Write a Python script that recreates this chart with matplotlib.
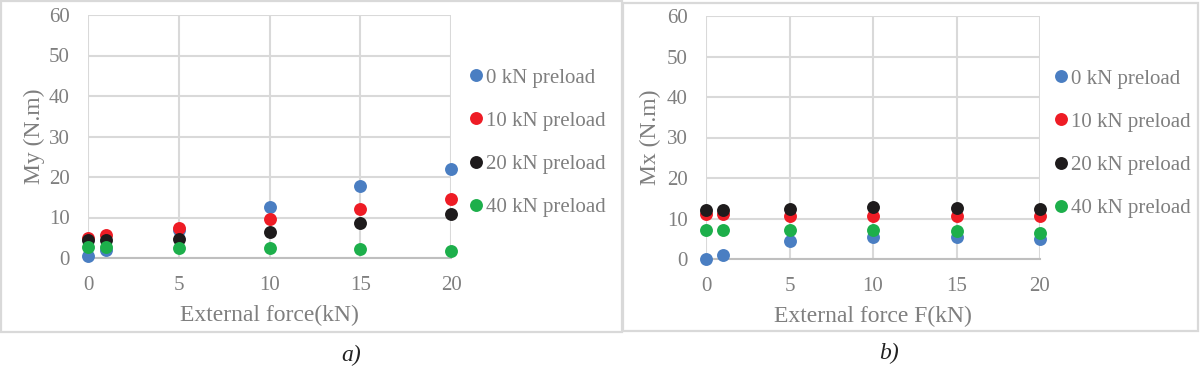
import matplotlib
matplotlib.use("Agg")
import matplotlib.pyplot as plt
from matplotlib.patches import Rectangle

plt.rcParams['font.family'] = ['Liberation Serif', 'DejaVu Serif']

x_force = [0, 1, 5, 10, 15, 20]
series_labels = ["0 kN preload", "10 kN preload", "20 kN preload", "40 kN preload"]
colors = ["#4A7EC2", "#EE1C25", "#1E1B1C", "#1DAF4B"]

my_0 = [0.6, 2.0, 6.9, 12.7, 17.8, 22.0]
my_10 = [4.9, 5.6, 7.3, 9.7, 12.2, 14.6]
my_20 = [4.5, 4.5, 4.7, 6.3, 8.7, 10.9]
my_40 = [2.6, 2.6, 2.5, 2.5, 2.2, 1.7]

mx_0 = [0.0, 1.0, 4.4, 5.4, 5.4, 4.9]
mx_10 = [11.0, 11.0, 10.7, 10.7, 10.6, 10.6]
mx_20 = [12.1, 12.1, 12.4, 12.9, 12.7, 12.4]
mx_40 = [7.1, 7.1, 7.1, 7.1, 6.9, 6.5]

xticks = [0, 5, 10, 15, 20]
yticks = [0, 10, 20, 30, 40, 50, 60]

W, H = 1200, 369
fig = plt.figure(figsize=(W / 100, H / 100), dpi=100)

grey = "#7F7F7F"
gridc = "#D9D9D9"

# outer frames
for (x0, y0, x1, y1) in [(1, 1, 622, 332), (623, 3, 1198, 331)]:
    fig.patches.append(Rectangle((x0 / W, 1 - y1 / H), (x1 - x0) / W, (y1 - y0) / H,
                                 transform=fig.transFigure, fill=False,
                                 edgecolor=gridc, linewidth=1.6))

def panel(rect, data, ylabel, xlabel, legend_pos, caption, cap_pos, ylabelpad):
    ax = fig.add_axes(rect)
    for vals, c, lab in zip(data, colors, series_labels):
        ax.plot(x_force, vals, linestyle="none", marker="o", markersize=9.3,
                color=c, markeredgewidth=0, label=lab, clip_on=False, zorder=3)
    ax.set_xlim(0, 20)
    ax.set_ylim(0, 60)
    ax.set_xticks(xticks)
    ax.set_yticks(yticks)
    ax.grid(True, color=gridc, linewidth=1.5)
    ax.set_axisbelow(True)
    for s in ["top", "right", "left"]:
        ax.spines[s].set_visible(False)
    ax.spines["bottom"].set_color("#BFBFBF")
    ax.spines["bottom"].set_linewidth(1.5)
    ax.tick_params(length=0, labelsize=15, colors=grey)
    ax.tick_params(axis="x", pad=13)
    ax.tick_params(axis="y", pad=13)
    ax.set_ylabel(ylabel, fontsize=17, color=grey, labelpad=ylabelpad)
    ax.set_xlabel(xlabel, fontsize=17, color=grey, labelpad=7)
    leg = ax.legend(loc="upper left", bbox_to_anchor=legend_pos,
                    bbox_transform=fig.transFigure, frameon=False,
                    fontsize=15, labelspacing=1.13, handletextpad=0.0,
                    handlelength=0.9, borderpad=0, borderaxespad=0)
    for t in leg.get_texts():
        t.set_color(grey)
    fig.text(cap_pos[0] / W, 1 - cap_pos[1] / H, caption, fontsize=17,
             style="italic", ha="center", va="center", color="#222222")
    return ax

panel([88 / W, 1 - 258 / H, (451 - 88) / W, (258 - 15) / H],
      [my_0, my_10, my_20, my_40], "My (N.m)", "External force(kN)",
      (467 / W, 1 - 68 / H), "a)", (351, 355), 3)
panel([706 / W, 1 - 259 / H, (1040 - 706) / W, (259 - 16) / H],
      [mx_0, mx_10, mx_20, mx_40], "Mx (N.m)", "External force F(kN)",
      (1052 / W, 1 - 69 / H), "b)", (889, 353), 4)

fig.savefig("out.png", dpi=100)
